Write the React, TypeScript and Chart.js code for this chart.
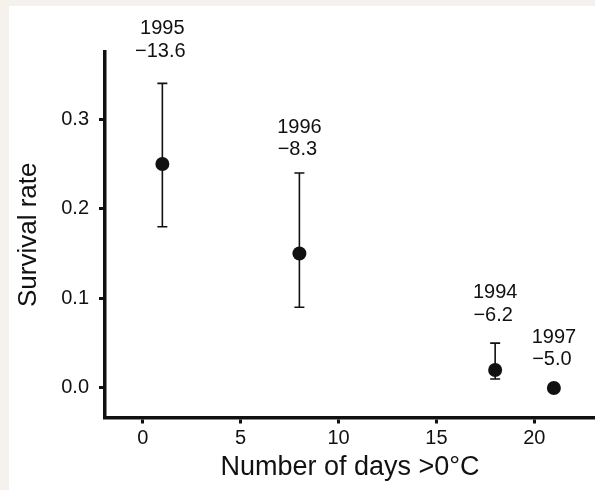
import React, { useEffect, useRef } from "react";
import { Chart, registerables } from "chart.js";

Chart.register(...registerables);

const days = [1, 8, 18, 21];
const survival = [0.25, 0.15, 0.02, 0.0];
const upper = [0.34, 0.24, 0.05, null];
const lower = [0.18, 0.09, 0.01, null];
const years = ["1995", "1996", "1994", "1997"];
const temps = ["\u221213.6", "\u22128.3", "\u22126.2", "\u22125.0"];
const xTicks = [0, 5, 10, 15, 20];
const yTicks = [0, 0.1, 0.2, 0.3];

const FONT = "'Liberation Sans', Arial, Helvetica, sans-serif";
const INK = "#111111";

const errorBarPlugin = {
  id: "errorBars",
  beforeDatasetsDraw(chart: any) {
    const { ctx, scales } = chart;
    const xs = scales.x;
    const ys = scales.y;
    ctx.save();
    ctx.strokeStyle = INK;
    ctx.lineWidth = 1.6;
    const cap = 5;
    days.forEach((d, i) => {
      const hi = upper[i];
      const lo = lower[i];
      if (hi == null || lo == null) return;
      const px = xs.getPixelForValue(d);
      const pHi = ys.getPixelForValue(hi);
      const pLo = ys.getPixelForValue(lo);
      ctx.beginPath();
      ctx.moveTo(px, pHi);
      ctx.lineTo(px, pLo);
      ctx.moveTo(px - cap, pHi);
      ctx.lineTo(px + cap, pHi);
      ctx.moveTo(px - cap, pLo);
      ctx.lineTo(px + cap, pLo);
      ctx.stroke();
    });
    ctx.restore();
  },
};

const labelPlugin = {
  id: "pointLabels",
  afterDatasetsDraw(chart: any, _args: any, opts: any) {
    const { ctx, scales } = chart;
    const xs = scales.x;
    const ys = scales.y;
    const gaps: number[] = opts.gaps || [];
    ctx.save();
    ctx.fillStyle = "#111";
    ctx.font = `20px ${FONT}`;
    ctx.textAlign = "center";
    ctx.textBaseline = "middle";
    days.forEach((d, i) => {
      const px = xs.getPixelForValue(d);
      const topVal = upper[i] != null ? (upper[i] as number) : survival[i];
      const py = ys.getPixelForValue(topVal);
      const base = py - (gaps[i] ?? 28);
      ctx.fillText(temps[i], px - 2, base);
      ctx.fillText(years[i], px, base - 22.5);
    });
    ctx.restore();
  },
};

export default function App() {
  const ref = useRef<HTMLCanvasElement | null>(null);

  useEffect(() => {
    if (!ref.current) return;
    const chart = new Chart(ref.current, {
      type: "scatter",
      data: {
        datasets: [
          {
            data: days.map((d, i) => ({ x: d, y: survival[i] })),
            backgroundColor: INK,
            borderColor: INK,
            pointRadius: 7,
            pointHoverRadius: 7,
            borderWidth: 0,
            clip: false as any,
          },
        ],
      },
      plugins: [errorBarPlugin, labelPlugin],
      options: {
        animation: false,
        responsive: false,
        maintainAspectRatio: false,
        layout: { autoPadding: false, padding: { top: 46, right: 0, left: 0, bottom: 0 } },
        plugins: {
          legend: { display: false },
          tooltip: { enabled: false },
          pointLabels: { gaps: [32, 23, 28, 28] },
        } as any,
        scales: {
          x: {
            type: "linear",
            min: -1.93,
            max: 23.1,
            afterBuildTicks: (scale: any) => {
              scale.ticks = xTicks.map((v) => ({ value: v }));
            },
            afterFit: (scale: any) => {
              scale.height = 72.5;
              scale.paddingRight = 0;
              scale.paddingLeft = 0;
            },
            border: { display: true, color: INK, width: 3.5 },
            grid: {
              drawOnChartArea: false,
              drawTicks: true,
              tickLength: 6,
              tickWidth: 3,
              tickColor: INK,
            },
            ticks: {
              color: "#111",
              font: { family: FONT, size: 20 },
              padding: 3,
              maxRotation: 0,
              callback: (v: any) => String(v),
            },
            title: {
              display: true,
              text: "Number of days >0\u00B0C",
              color: "#111",
              font: { family: FONT, size: 27 },
              padding: { top: 0, bottom: 6 },
            },
          },
          y: {
            type: "linear",
            min: -0.033,
            max: 0.375,
            afterBuildTicks: (scale: any) => {
              scale.ticks = yTicks.map((v) => ({ value: v }));
            },
            afterFit: (scale: any) => {
              scale.width = 96;
              scale.paddingTop = 0;
              scale.paddingBottom = 0;
            },
            border: { display: true, color: INK, width: 3.5 },
            grid: {
              drawOnChartArea: false,
              drawTicks: true,
              tickLength: 6,
              tickWidth: 3,
              tickColor: INK,
            },
            ticks: {
              color: "#111",
              font: { family: FONT, size: 20 },
              padding: 10,
              callback: (v: any) => Number(v).toFixed(1),
            },
            title: {
              display: true,
              text: "Survival rate",
              color: "#111",
              font: { family: FONT, size: 26 },
              padding: { top: 4, bottom: 0 },
            },
          },
        },
      },
    });
    return () => chart.destroy();
  }, []);

  return (
    <div
      style={{
        position: "absolute",
        left: 0,
        top: 0,
        width: 595,
        height: 490,
        background: "#f5f1ed",
        overflow: "hidden",
      }}
    >
      <canvas
        ref={ref}
        width={586}
        height={484}
        style={{
          position: "absolute",
          left: 9,
          top: 6,
          width: 586,
          height: 484,
          background: "#ffffff",
        }}
      />
    </div>
  );
}
